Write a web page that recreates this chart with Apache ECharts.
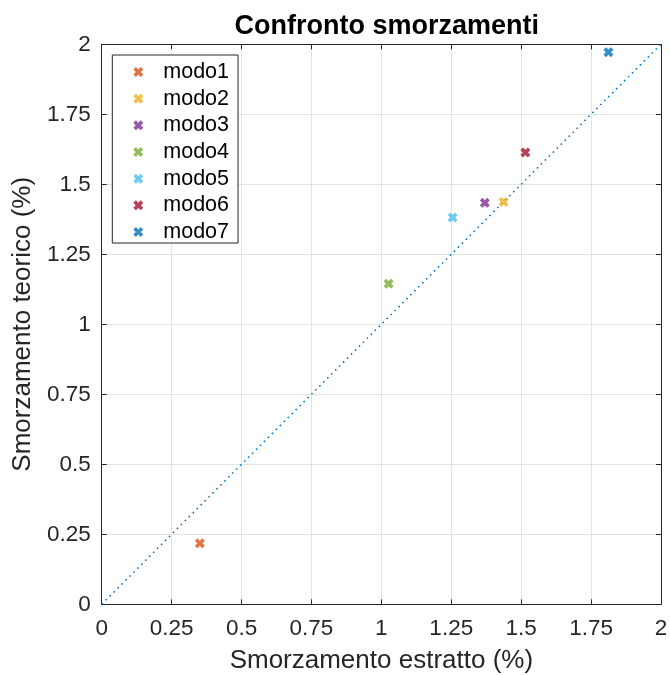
<!DOCTYPE html>
<html>
<head>
<meta charset="utf-8">
<script src="https://cdn.jsdelivr.net/npm/echarts@6/dist/echarts.min.js"></script>
<style>
html,body{margin:0;padding:0;background:#fff;}
#chart{width:670px;height:675px;}
</style>
</head>
<body>
<div id="chart"></div>
<script>
const seriesNames = ['modo1','modo2','modo3','modo4','modo5','modo6','modo7'];
const estratto = [0.351, 1.437, 1.370, 1.026, 1.255, 1.515, 1.812];
const teorico  = [0.218, 1.437, 1.434, 1.145, 1.381, 1.614, 1.972];
const colors = ['#D95319','#EDB120','#7E2F8E','#77AC30','#4DBEEE','#A2142F','#0072BD'];
const refLine = [[0,0],[2,2]];

const xMark = 'path://M0,2.6 L2.6,0 L5,2.4 L7.4,0 L10,2.6 L7.6,5 L10,7.4 L7.4,10 L5,7.6 L2.6,10 L0,7.4 L2.4,5 Z';
const font = 'Liberation Sans, Arial, Helvetica, sans-serif';
const axisColor = '#262626';

const chart = echarts.init(document.getElementById('chart'), null, {renderer:'canvas'});

const baseAxis = {
  type:'value', min:0, max:2, interval:0.25,
  axisLine:{show:true, onZero:false, lineStyle:{color:axisColor, width:1}},
  axisTick:{show:true, inside:true, length:5, lineStyle:{color:axisColor}},
  splitLine:{show:false}
};

const series = [{
  type:'line', name:'ref', data:refLine, showSymbol:false, symbol:'none',
  lineStyle:{color:'#0072BD', width:1.5, type:[1.6,4]},
  silent:true, z:1
}];
seriesNames.forEach((n,i)=>{
  series.push({
    type:'scatter', name:n, data:[[estratto[i], teorico[i]]],
    symbol:xMark, symbolSize:10, itemStyle:{color:colors[i]}, z:3
  });
});

chart.setOption({
  animation:false,
  backgroundColor:'#fff',
  color:colors,
  title:{
    text:'Confronto smorzamenti', left:381.7, top:8, textAlign:'center',
    textStyle:{fontFamily:font, fontWeight:'bold', fontSize:27, color:'#000'}
  },
  legend:{
    orient:'vertical', left:112.3, top:55,
    data:seriesNames.map(n=>({name:n, icon:xMark})),
    itemWidth:10, itemHeight:10, itemGap:4.67,
    borderColor:axisColor, borderWidth:1, borderRadius:0,
    backgroundColor:'#fff',
    padding:[6, 9, 0, 21],
    textStyle:{fontFamily:font, fontSize:21.5, lineHeight:20, color:'#000', padding:[0,0,0,15]}
  },
  grid:{left:101.7, right:9, top:44.3, bottom:70.7, containLabel:false, outerBoundsMode:'none'},
  xAxis:[
    Object.assign({}, baseAxis, {
      position:'bottom',
      name:'Smorzamento estratto (%)', nameLocation:'middle', nameGap:44,
      nameTextStyle:{fontFamily:font, fontSize:26, color:axisColor},
      axisLabel:{fontFamily:font, fontSize:22.5, color:axisColor, margin:13},
      splitLine:{show:true, lineStyle:{color:'#e3e3e3', width:1}}
    }),
    Object.assign({}, baseAxis, {position:'top', axisLabel:{show:false}})
  ],
  yAxis:[
    Object.assign({}, baseAxis, {
      position:'left',
      name:'Smorzamento teorico (%)', nameLocation:'middle', nameGap:63,
      nameTextStyle:{fontFamily:font, fontSize:26, color:axisColor},
      axisLabel:{fontFamily:font, fontSize:22.5, color:axisColor, margin:11},
      splitLine:{show:true, lineStyle:{color:'#e3e3e3', width:1}}
    }),
    Object.assign({}, baseAxis, {position:'right', axisLabel:{show:false}})
  ],
  series:series
});
</script>
</body>
</html>
